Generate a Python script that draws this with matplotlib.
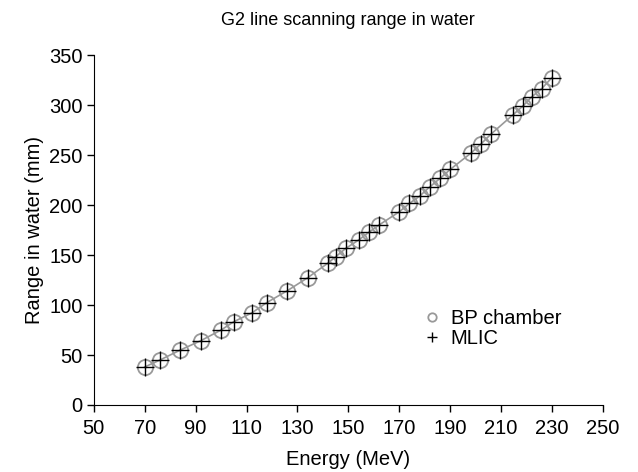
import matplotlib
matplotlib.use("Agg")
import matplotlib.pyplot as plt

plt.rcParams["font.family"] = ["Liberation Sans", "DejaVu Sans"]

energy = [70, 76, 84, 92, 100, 105, 112, 118, 126, 134, 142, 145, 149, 154, 158,
          162, 170, 174, 178, 182, 186, 190, 198, 202, 206, 214.5, 218.5, 222, 226, 230]
bp_range = [38, 45, 55, 64.3, 75, 83.3, 92, 102.5, 114.3, 127.3, 142, 148.3, 156.7,
            165, 172.7, 180, 193.3, 201.7, 209, 218.3, 226.7, 235.7, 251.7, 261, 271,
            290, 299, 308.3, 316.7, 327.7]
mlic_range = list(bp_range)

fig = plt.figure(figsize=(6.38, 4.72), dpi=100)
ax = fig.add_axes([0.147, 0.142, 0.798, 0.741])

ax.plot(energy, bp_range, "-", color="#999999", lw=1.2, zorder=1)
ax.plot(energy, bp_range, "o", mfc="none", mec="#999999", mew=1.3, ms=11,
        label="BP chamber", zorder=2)
ax.plot(energy, mlic_range, "+", color="black", mew=1.0, ms=13,
        label="MLIC", zorder=3)

ax.set_xlim(50, 250)
ax.set_ylim(0, 350)
ax.set_xticks(range(50, 251, 20))
ax.set_yticks(range(0, 351, 50))
ax.tick_params(labelsize=14.5, direction="out", length=5, width=1)
ax.tick_params(axis="x", pad=5)
ax.tick_params(axis="y", pad=3)
for s in ["top", "right"]:
    ax.spines[s].set_visible(False)

ax.set_xlabel("Energy (MeV)", fontsize=14.5, labelpad=9)
ax.set_ylabel("Range in water (mm)", fontsize=14.5)
ax.set_title("G2 line scanning range in water", fontsize=13, pad=22)

ax.legend(loc="lower left", bbox_to_anchor=(0.61, 0.11), frameon=False,
          fontsize=14.5, markerscale=0.55, handlelength=0.9, handletextpad=0.5,
          labelspacing=0.05)

fig.savefig("out.png", dpi=100)
